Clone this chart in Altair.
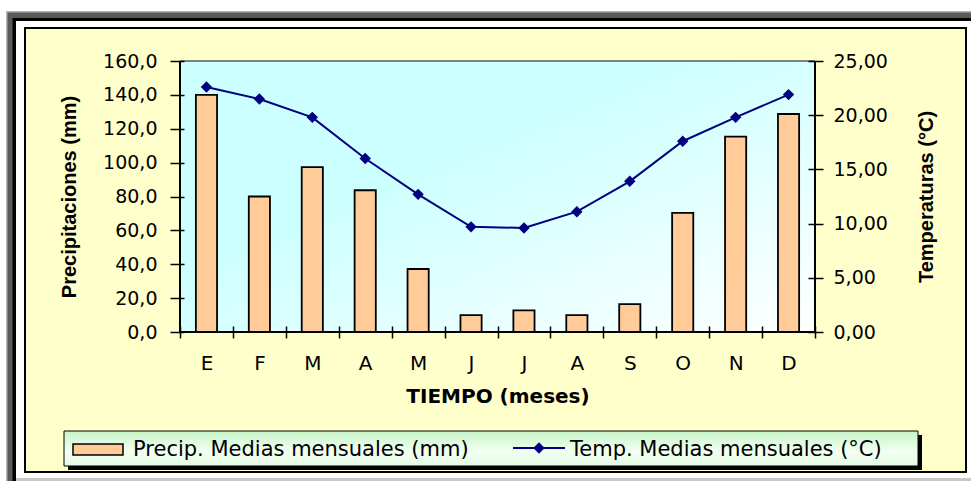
import json
import altair as alt
import pandas as pd

# Climograma: precipitaciones (barras) y temperaturas (linea) medias mensuales
meses = ["Ene", "Feb", "Mar", "Abr", "May", "Jun", "Jul", "Ago", "Sep", "Oct", "Nov", "Dic"]
letras = ["E", "F", "M", "A", "M", "J", "J", "A", "S", "O", "N", "D"]
precip = [140.0, 80.0, 97.4, 83.7, 37.2, 10.0, 12.8, 10.0, 16.4, 70.3, 115.4, 128.7]
temp = [22.6, 21.5, 19.8, 16.0, 12.7, 9.7, 9.6, 11.1, 13.9, 17.6, 19.8, 21.9]
ticks_precip = [0, 20, 40, 60, 80, 100, 120, 140, 160]
ticks_temp = [0, 5, 10, 15, 20, 25]

serie_precip = "Precip. Medias mensuales (mm)"
serie_temp = "Temp. Medias mensuales (°C)"

df = pd.DataFrame({"mes": meses, "precip": precip, "temp": temp})

# plot area and page geometry
W, H = 635, 271
LEFT, TOP = 180, 61
PAGE_W, PAGE_H = 971, 481

BAR_FILL = "#FFCC99"
LINE_COL = "#000080"
FONT = "DejaVu Sans"
TITLE_FONT = "Liberation Sans"

ONE = alt.Data(values=[{"k": 0}])


def box(x1, y1, x2, y2, **style):
    """Rectangle given in page pixels."""
    return alt.Chart(ONE).mark_rect(**style).encode(
        x=alt.value(x1 - LEFT), x2=alt.value(x2 - LEFT),
        y=alt.value(y1 - TOP), y2=alt.value(y2 - TOP),
    )


def hline(x1, x2, y, color, width):
    return alt.Chart(ONE).mark_rule(color=color, strokeWidth=width).encode(
        x=alt.value(x1 - LEFT), x2=alt.value(x2 - LEFT), y=alt.value(y - TOP)
    )


def vline(x, y1, y2, color, width):
    return alt.Chart(ONE).mark_rule(color=color, strokeWidth=width).encode(
        x=alt.value(x - LEFT), y=alt.value(y1 - TOP), y2=alt.value(y2 - TOP)
    )


# window-like frame around the chart
frame = [
    box(6, 11, PAGE_W, PAGE_H, fill="#B4B4B4"),
    box(7.5, 12.5, PAGE_W, PAGE_H, fill="#5A5A5A"),
    box(12.5, 18, PAGE_W, PAGE_H, fill="#000000"),
    box(16, 21, PAGE_W, 478, fill="#FFFFFF"),
    box(16, 478, PAGE_W, PAGE_H, fill="#C8C8C8"),
    box(25, 28, 966, 472, fill="#FFFFCC", stroke="#000000", strokeWidth=2),
]

plot_bg = box(
    LEFT, TOP, LEFT + W, TOP + H,
    fill=alt.LinearGradient(
        gradient="linear",
        stops=[
            alt.GradientStop(offset=0, color="#CCFFFF"),
            alt.GradientStop(offset=0.38, color="#CCFFFF"),
            alt.GradientStop(offset=1, color="#FFFFFF"),
        ],
        x1=0, y1=0, x2=1, y2=1,
    ),
)
plot_top = hline(LEFT, LEFT + W, TOP, "#808080", 2)

x_enc = alt.X(
    "mes:N",
    sort=meses,
    scale=alt.Scale(paddingInner=0, paddingOuter=0),
    axis=alt.Axis(
        orient="bottom", offset=-6, domain=False, grid=False,
        tickBand="extent", tickSize=12, tickWidth=1.5, tickColor="black",
        labelAngle=0, labelOverlap=False,
        labelExpr=f"{json.dumps(letras)}[indexof({json.dumps(meses)}, datum.value)]",
        labelFont=FONT, labelFontSize=20, labelColor="black", labelPadding=15,
        title="TIEMPO (meses)", titleFont=FONT, titleFontSize=20,
        titleFontWeight="bold", titleColor="black",
        titleX=W / 2, titleY=76, titleAlign="center", titleBaseline="alphabetic",
        zindex=1,
    ),
)

bars = alt.Chart(df).mark_bar(
    fill=BAR_FILL, stroke="black", strokeWidth=1.8,
    width=alt.RelativeBandSize(0.4),
).encode(
    x=x_enc,
    y=alt.Y(
        "precip:Q",
        scale=alt.Scale(domain=[0, 160], nice=False),
        axis=alt.Axis(
            orient="left", offset=-4, domain=False, grid=False,
            values=ticks_precip, tickSize=14, tickWidth=1.5, tickColor="black",
            labelExpr="replace(format(datum.value, '.1f'), '.', ',')",
            labelFont=FONT, labelFontSize=19, labelColor="black",
            labelPadding=13, labelOverlap=False,
            title="Precipitaciones (mm)", titleFont=TITLE_FONT, titleFontSize=20,
            titleFontWeight="bold", titleColor="black", titleAngle=270,
            titleX=-115, titleY=H / 2, titleAlign="center", titleBaseline="middle",
            zindex=1,
        ),
    ),
)

line = alt.Chart(df).mark_line(
    color=LINE_COL, strokeWidth=2,
    point=alt.OverlayMarkDef(shape="diamond", size=130, filled=True,
                             color=LINE_COL, opacity=1),
).encode(
    x=alt.X("mes:N", sort=meses),
    y=alt.Y(
        "temp:Q",
        scale=alt.Scale(domain=[0, 25], nice=False),
        axis=alt.Axis(
            orient="right", offset=-7, domain=False, grid=False,
            values=ticks_temp, tickSize=15, tickWidth=1.5, tickColor="black",
            labelExpr="replace(format(datum.value, '.2f'), '.', ',')",
            labelFont=FONT, labelFontSize=19, labelColor="black",
            labelPadding=10, labelOverlap=False,
            title="Temperaturas (°C)", titleFont=TITLE_FONT, titleFontSize=20,
            titleFontWeight="bold", titleColor="black", titleAngle=270,
            titleX=118, titleY=H / 2, titleAlign="center", titleBaseline="middle",
            zindex=1,
        ),
    ),
)

# black axis lines
axis_lines = [
    vline(LEFT, TOP, TOP + H, "black", 2),
    vline(LEFT + W, TOP, TOP + H, "black", 2),
    hline(LEFT, LEFT + W, TOP + H, "black", 2),
]

# legend box with drop shadow
legend_bg = alt.LinearGradient(
    gradient="linear",
    stops=[
        alt.GradientStop(offset=0, color="#C8F5C8"),
        alt.GradientStop(offset=0.6, color="#F2FFF2"),
        alt.GradientStop(offset=1, color="#E2FAE2"),
    ],
    x1=0, y1=0, x2=0, y2=1,
)
legend = [
    box(68, 435, 922, 470, fill="#000000"),
    box(64, 431, 918, 466, fill=legend_bg, stroke="#000000", strokeWidth=1),
    box(73, 444, 123, 455, fill=BAR_FILL, stroke="black", strokeWidth=1.5),
    alt.Chart(ONE).mark_text(
        align="left", baseline="alphabetic", font=FONT, fontSize=21, color="black"
    ).encode(x=alt.value(133 - LEFT), y=alt.value(456 - TOP), text=alt.value(serie_precip)),
    hline(513, 565, 448, LINE_COL, 2),
    alt.Chart(ONE).mark_point(
        shape="diamond", size=130, filled=True, color=LINE_COL, opacity=1
    ).encode(x=alt.value(539 - LEFT), y=alt.value(448 - TOP)),
    alt.Chart(ONE).mark_text(
        align="left", baseline="alphabetic", font=FONT, fontSize=21, color="black"
    ).encode(x=alt.value(570 - LEFT), y=alt.value(456 - TOP), text=alt.value(serie_temp)),
]

chart = alt.layer(
    *frame, *legend[:2], plot_bg, plot_top, bars, line, *axis_lines, *legend[2:]
).resolve_scale(
    y="independent"
).properties(
    width=W,
    height=H,
    autosize=alt.AutoSizeParams(type="none"),
    padding={"left": LEFT, "top": TOP, "right": PAGE_W - LEFT - W, "bottom": PAGE_H - TOP - H},
    background="white",
).configure_view(strokeWidth=0)

chart.save("out.html", embed_options={"renderer": "svg", "actions": False})
